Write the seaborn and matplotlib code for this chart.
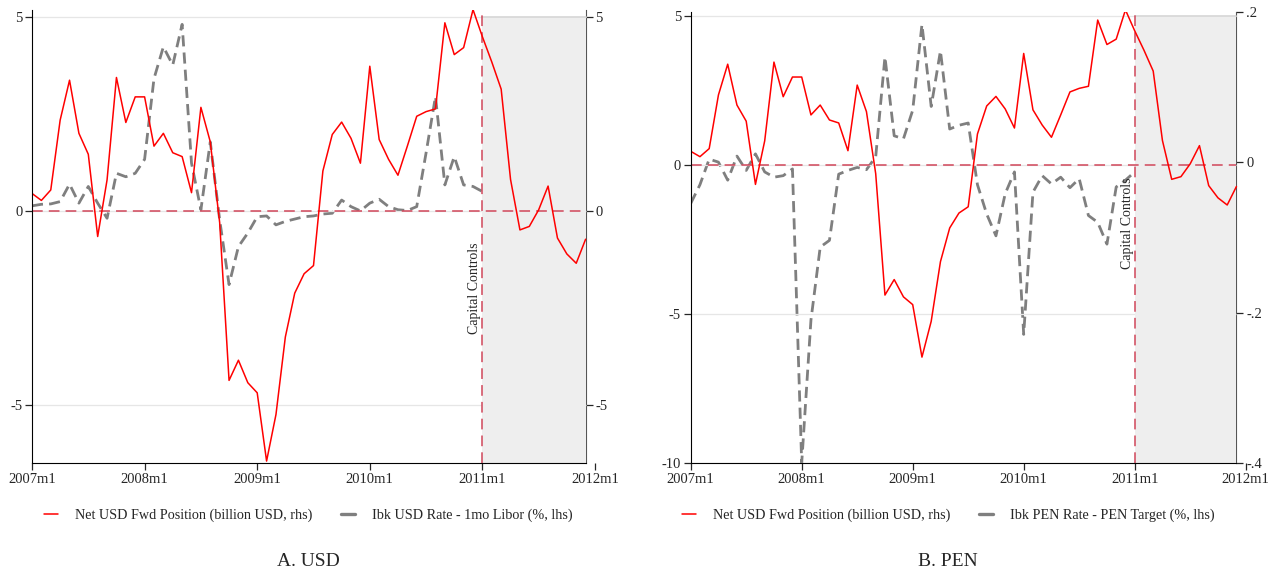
import numpy as np
import pandas as pd
import matplotlib
matplotlib.use("Agg")
import matplotlib.pyplot as plt
import seaborn as sns
from matplotlib.lines import Line2D

sns.set_style("white")
plt.rcParams['font.family'] = ['Liberation Serif', 'DejaVu Serif']

# monthly data, 2007m1 .. 2011m12
months = np.arange(60)
tick_pos = [0, 12, 24, 36, 48, 60]
tick_labels = ["2007m1", "2008m1", "2009m1", "2010m1", "2011m1", "2012m1"]

# Net USD forward position (billion USD) - same series in both panels
net_fwd = [0.45, 0.27, 0.54, 2.34, 3.37, 2.0, 1.46, -0.66, 0.8, 3.44, 2.28, 2.94,
           2.94, 1.67, 2.0, 1.5, 1.4, 0.47, 2.67, 1.78, -0.3, -4.37, -3.85, -4.43,
           -4.69, -6.45, -5.25, -3.25, -2.12, -1.62, -1.41, 1.03, 1.97, 2.29, 1.87, 1.23,
           3.73, 1.84, 1.33, 0.92, 1.67, 2.44, 2.56, 2.63, 4.85, 4.03, 4.21, 5.19,
           4.49, 3.84, 3.14, 0.81, -0.49, -0.40, 0.03, 0.64, -0.70, -1.11, -1.35, -0.73]

# Interbank USD rate - 1mo Libor (%), ends 2011m11
usd_spread = [0.13, 0.17, 0.18, 0.24, 0.69, 0.2, 0.63, 0.2, -0.19, 0.97, 0.88, 0.97,
              1.33, 3.41, 4.23, 3.76, 4.81, 1.23, 0.03, 1.78, -0.23, -1.9, -0.92, -0.57,
              -0.15, -0.13, -0.36, -0.27, -0.21, -0.15, -0.13, -0.08, -0.06, 0.28, 0.11, 0.0,
              0.2, 0.3, 0.11, 0.03, 0.01, 0.11, 1.5, 2.95, 0.67, 1.4, 0.67, 0.63,
              0.5, 2.65, 1.31, 0.03, 0.05, 0.09, 0.17, 0.12, 0.64, 0.17, -0.04]

# Interbank PEN rate - PEN target (%)
pen_spread = [-0.055, -0.03, 0.004, 0.0, -0.024, 0.008, -0.011, 0.011, -0.013, -0.02, -0.018, -0.009,
              -0.40, -0.21, -0.113, -0.104, -0.016, -0.011, -0.007, -0.010, 0.007, 0.14, 0.035, 0.031,
              0.069, 0.183, 0.074, 0.148, 0.044, 0.049, 0.052, -0.03, -0.069, -0.098, -0.042, -0.013,
              -0.229, -0.04, -0.018, -0.029, -0.02, -0.034, -0.022, -0.071, -0.08, -0.109, -0.033, -0.024,
              -0.013, -0.015, -0.013, -0.002, 0.013, 0.025, 0.011, -0.016, 0.004, 0.018, 0.007, -0.007]

red = "#ff0000"
gray = "#7f7f7f"
ref = "#d0465a"
W, H = 1281, 573

fig = plt.figure(figsize=(W / 100, H / 100), dpi=100)


def panel(left_px, right_px, top_px, ylim_l, ylim_r, yt_l, yt_l_lab, yt_r, yt_r_lab,
          gray_y, txt_y, legend_lab, title, cx):
    bottom_px = 463
    ax = fig.add_axes([left_px / W, 1 - bottom_px / H, (right_px - left_px) / W,
                       (bottom_px - top_px) / H])
    ax.set_xlim(0, 60)
    ax.set_ylim(*ylim_l)
    ax2 = ax.twinx()
    ax2.set_ylim(*ylim_r)

    # grid lines and shaded post-controls period
    ax.hlines(yt_l, 0, 59, color="#e6e6e6", lw=0.9, zorder=0)
    ax.fill_between([48, 59], ylim_l[0], 5, color="#eeeeee", zorder=0.5, lw=0)
    ax.plot([48, 59], [5, 5], color="#d6d6d6", lw=1.2, zorder=0.6)

    ax.plot([0, 59], [0, 0], color=ref, lw=1.1, dashes=(7, 4), zorder=1)
    ax.axvline(48, color=ref, lw=1.1, dashes=(7, 4), zorder=1)
    ax.text(47.2, txt_y, "Capital Controls", rotation=90, ha="center", va="top", fontsize=10)

    sns.lineplot(x=months[:len(gray_y)], y=gray_y, ax=ax2, color=gray, lw=2.0)
    ax2.lines[-1].set_dashes((4, 2.2))
    sns.lineplot(x=months, y=net_fwd, ax=ax, color=red, lw=1.1)
    ax.set_zorder(ax2.get_zorder() + 1)
    ax.patch.set_visible(False)

    for a in (ax, ax2):
        a.spines["top"].set_visible(False)
        a.set_xlabel("")
        a.set_ylabel("")
    ax.spines["right"].set_visible(False)
    ax2.spines["left"].set_visible(False)
    ax2.spines["bottom"].set_visible(False)
    ax2.spines["right"].set_position(("data", 59))
    ax2.spines["right"].set_color("#555555")
    ax.spines["bottom"].set_bounds(0, 59)
    ax.spines["left"].set_color("black")
    ax.spines["bottom"].set_color("black")

    ax.set_xticks(tick_pos)
    ax.set_xticklabels(tick_labels)
    ax.set_yticks(yt_l)
    ax.set_yticklabels(yt_l_lab)
    ax2.set_yticks(yt_r)
    ax2.set_yticklabels(yt_r_lab)
    ax.tick_params(axis="both", direction="out", length=5, width=0.9, labelsize=10.5,
                   bottom=True, left=True, pad=2)
    ax2.tick_params(axis="y", direction="out", length=5, width=0.9, labelsize=10.5,
                    right=True, pad=2)

    handles = [Line2D([], [], color=red, lw=1.1),
               Line2D([], [], color=gray, lw=2.4)]
    fig.legend(handles, ["Net USD Fwd Position (billion USD, rhs)", legend_lab],
               loc="center", bbox_to_anchor=(cx / W, 1 - 515 / H), ncol=2,
               frameon=False, fontsize=10.2, handlelength=1.0, handletextpad=1.2,
               columnspacing=2.0)
    fig.text(cx / W, 1 - 562 / H, title, ha="center", va="center", fontsize=14)


panel(32, 595, 10, (-6.5, 5.18), (-6.5, 5.18), [-5, 0, 5], ["-5", "0", "5"],
      [-5, 0, 5], ["-5", "0", "5"], usd_spread, -0.82,
      "Ibk USD Rate - 1mo Libor (%, lhs)", "A. USD", 308)
panel(690.7, 1245.7, 11.7, (-10, 5.13), (-0.4, 0.2), [-10, -5, 0, 5], ["-10", "-5", "0", "5"],
      [-0.4, -0.2, 0, 0.2], ["-.4", "-.2", "0", ".2"], pen_spread, -0.44,
      "Ibk PEN Rate - PEN Target (%, lhs)", "B. PEN", 948)

fig.savefig("out.png", dpi=100)
